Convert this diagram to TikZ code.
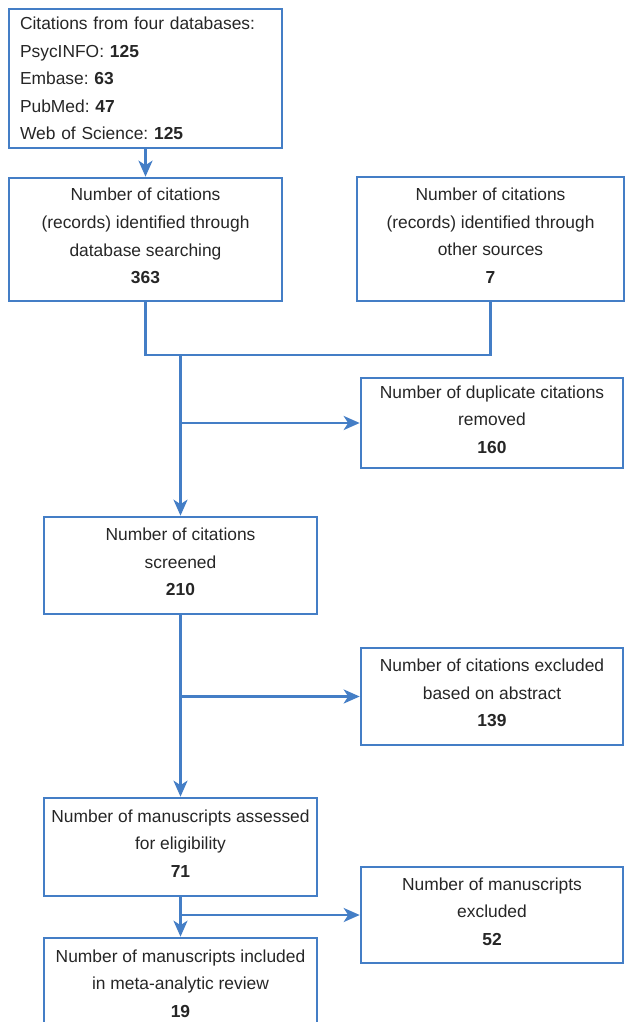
\documentclass[tikz,border=0pt]{standalone}
\usepackage{fontspec}
\setmainfont{Liberation Sans}
\frenchspacing
\usetikzlibrary{arrows.meta}
\definecolor{flowblue}{RGB}{68,126,198}

\begin{document}
\begin{tikzpicture}[x=1pt, y=-1pt,
    base/.style={draw=flowblue, line width=2.6pt, inner sep=0pt,
        text=black!85, font=\fontsize{17.4}{27.6}\selectfont},
    box/.style={base, align=center, execute at end node={\rule[-7pt]{0pt}{7pt}}},
    listbox/.style={base, align=left, text width=251pt, inner xsep=11pt},
    line/.style={draw=flowblue, line width=2.6pt},
    arrow/.style={line, -{Stealth[length=16pt, width=14pt, inset=4.5pt]}}]
    % Frame
    \clip (0,0) rectangle (625,1022);

    % Sources
    \node[listbox, minimum height=139pt] (db) at (145.5,78.5)
        {Citations from four databases:\\PsycINFO: \textbf{125}\\Embase: \textbf{63}\\PubMed: \textbf{47}\\Web of Science: \textbf{125}};
    \node[box, minimum width=273pt, minimum height=123pt] (search) at (145.5,239.5)
        {Number of citations\\(records) identified through\\database searching\\\textbf{363}};
    \node[box, minimum width=267pt, minimum height=124pt] (other) at (490.5,239)
        {Number of citations\\(records) identified through\\other sources\\\textbf{7}};

    % Main column
    \node[box, minimum width=273pt, minimum height=97pt] (screened) at (180.5,565.5)
        {Number of citations\\screened\\\textbf{210}};
    \node[box, minimum width=273pt, minimum height=98pt] (assessed) at (180.5,847)
        {Number of manuscripts assessed\\for eligibility\\\textbf{71}};
    \node[box, minimum width=273pt, minimum height=98pt] (included) at (180.5,987)
        {Number of manuscripts included\\in meta-analytic review\\\textbf{19}};

    % Removed
    \node[box, minimum width=262pt, minimum height=90pt] (dup) at (492,423)
        {Number of duplicate citations\\removed\\\textbf{160}};
    \node[box, minimum width=262pt, minimum height=97pt] (abstract) at (492,696.5)
        {Number of citations excluded\\based on abstract\\\textbf{139}};
    \node[box, minimum width=262pt, minimum height=96pt] (excl) at (492,915)
        {Number of manuscripts\\excluded\\\textbf{52}};

    % Connectors
    \coordinate (join) at (180.5,355);
    \draw[arrow] (db) -- (search);
    \draw[line] (search.south) |- (join) -| (other.south);
    \draw[arrow] (join) -- (screened.north);
    \draw[arrow] (screened.south) -- (assessed.north);
    \draw[arrow] (assessed.south) -- (included.north);
    \foreach \src/\dst in {join/dup, screened.south/abstract, assessed.south/excl}
        \draw[arrow] (\src |- \dst.west) -- (\dst.west);
\end{tikzpicture}
\end{document}
